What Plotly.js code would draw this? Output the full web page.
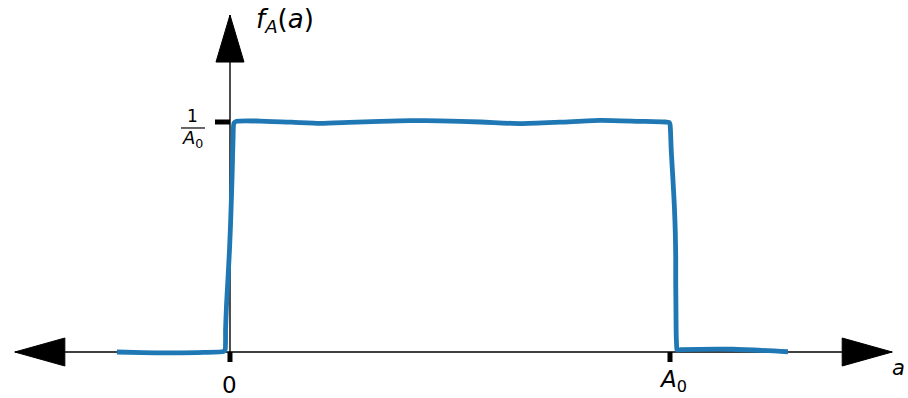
<!DOCTYPE html>
<html>
<head>
<meta charset="utf-8">
<script src="https://cdn.plot.ly/plotly-3.0.1.min.js"></script>
<style>html,body{margin:0;padding:0;background:#fff;}#chart{width:908px;height:398px;}</style>
</head>
<body>
<div id="chart"></div>
<script>
// Hand-drawn (xkcd-style) uniform density, x in units of A0, y in units of 1/A0
const curveX = [-0.257, -0.200, -0.136, -0.060, -0.014, -0.011, -0.010, -0.008, -0.005, -0.001, 0.002, 0.005, 0.007, 0.009, 0.015,
                0.068, 0.140, 0.205, 0.270, 0.341, 0.410, 0.477, 0.570, 0.659, 0.750, 0.841, 0.930, 0.990, 0.998, 1.000,
                1.003, 1.007, 1.010, 1.012, 1.013, 1.013, 1.0135, 1.014, 1.015, 1.016, 1.025, 1.143, 1.268];
const curveY = [0.000, -0.003, -0.004, -0.002, 0.003, 0.010, 0.100, 0.200, 0.304, 0.450, 0.596, 0.780, 0.930, 0.995, 1.003,
                1.004, 0.999, 0.994, 0.998, 1.003, 1.006, 1.005, 1.000, 0.993, 0.999, 1.007, 1.003, 1.000, 0.998, 0.990,
                0.870, 0.739, 0.630, 0.522, 0.410, 0.304, 0.200, 0.087, 0.030, 0.009, 0.010, 0.012, 0.001];

const xTickVals = [0, 1];
const xTickText = ['0', '<i>A</i><sub>0</sub>'];
const yTickVals = [1];
const yTickNum = '1';
const yTickDen = '<i>A</i><sub>0</sub>';
const xLabel = '<i>a</i>';
const yLabel = '<i>f</i><sub><i>A</i></sub>(<i>a</i>)';

const xRange = [-0.5227, 1.5409];
const yRange = [-0.2, 1.5304];
const xAxisEnds = [-0.489, 1.505];
const yAxisTop = 1.465;

const shapes = [];
// axis lines
shapes.push({type:'line', xref:'x', yref:'y', x0:xAxisEnds[0], x1:xAxisEnds[1], y0:0, y1:0,
  line:{color:'#000', width:1.4}, layer:'below'});
shapes.push({type:'line', xref:'x', yref:'y', x0:0, x1:0, y0:0, y1:yAxisTop,
  line:{color:'#000', width:1.4}, layer:'below'});
// arrow heads (pixel-sized, anchored at axis ends)
shapes.push({type:'path', xref:'x', yref:'y', xsizemode:'pixel', ysizemode:'pixel',
  xanchor:xAxisEnds[1], yanchor:0, path:'M 0 0 L -50 14 L -50 -14 Z',
  fillcolor:'#000', line:{color:'#000', width:1}});
shapes.push({type:'path', xref:'x', yref:'y', xsizemode:'pixel', ysizemode:'pixel',
  xanchor:xAxisEnds[0], yanchor:0, path:'M 0 0 L 50 14 L 50 -14 Z',
  fillcolor:'#000', line:{color:'#000', width:1}});
shapes.push({type:'path', xref:'x', yref:'y', xsizemode:'pixel', ysizemode:'pixel',
  xanchor:0, yanchor:yAxisTop, path:'M 0 0 L 14 -47 L -14 -47 Z',
  fillcolor:'#000', line:{color:'#000', width:1}});
// ticks
xTickVals.forEach(v => shapes.push({type:'line', xref:'x', yref:'y', ysizemode:'pixel',
  yanchor:0, x0:v, x1:v, y0:0, y1:-10, line:{color:'#000', width:5}}));
yTickVals.forEach(v => shapes.push({type:'line', xref:'x', yref:'y', xsizemode:'pixel',
  xanchor:0, x0:-15, x1:0, y0:v, y1:v, line:{color:'#000', width:5}}));
// fraction bar of y tick label
yTickVals.forEach(v => shapes.push({type:'line', xref:'x', yref:'y', xsizemode:'pixel', ysizemode:'pixel',
  xanchor:0, yanchor:v, x0:-49, x1:-25, y0:-6, y1:-6, line:{color:'#000', width:1.2}}));

const annotations = [];
xTickVals.forEach((v,i) => annotations.push({x:v, y:0, xref:'x', yref:'y', text:xTickText[i],
  showarrow:false, xanchor:'center', yanchor:'middle', yshift: i===0 ? -33 : -29, xshift: i===0?0:3,
  font:{family:'DejaVu Sans', size:23, color:'#000'}}));
yTickVals.forEach(v => {
  annotations.push({x:0, y:v, xref:'x', yref:'y', text:yTickNum, showarrow:false,
    xanchor:'center', yanchor:'middle', xshift:-37, yshift:6,
    font:{family:'DejaVu Sans', size:17, color:'#000'}});
  annotations.push({x:0, y:v, xref:'x', yref:'y', text:yTickDen, showarrow:false,
    xanchor:'center', yanchor:'middle', xshift:-37, yshift:-17,
    font:{family:'DejaVu Sans', size:18, color:'#000'}});
});
annotations.push({x:xAxisEnds[1], y:0, xref:'x', yref:'y', text:xLabel, showarrow:false,
  xanchor:'left', yanchor:'middle', xshift:-2, yshift:-16,
  font:{family:'DejaVu Sans', size:21, color:'#000'}});
annotations.push({x:0, y:yAxisTop, xref:'x', yref:'y', text:yLabel, showarrow:false,
  xanchor:'left', yanchor:'middle', xshift:24, yshift:-5,
  font:{family:'DejaVu Sans', size:26, color:'#000'}});

const trace = {x:curveX, y:curveY, type:'scatter', mode:'lines',
  line:{color:'#1f77b4', width:4.8, shape:'spline', smoothing:0.6}, hoverinfo:'skip'};

const layout = {
  width:908, height:398, margin:{l:0, r:0, t:0, b:0},
  paper_bgcolor:'#fff', plot_bgcolor:'#fff', showlegend:false,
  xaxis:{range:xRange, visible:false, fixedrange:true},
  yaxis:{range:yRange, visible:false, fixedrange:true},
  shapes:shapes, annotations:annotations
};
Plotly.newPlot('chart', [trace], layout, {staticPlot:true, displayModeBar:false});
</script>
</body>
</html>
